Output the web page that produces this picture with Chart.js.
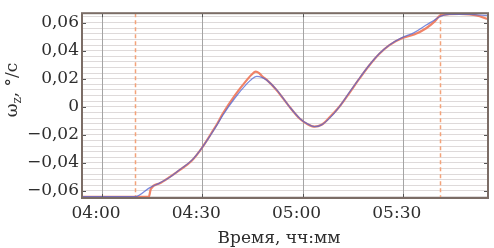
<!DOCTYPE html>
<html>
<head>
<meta charset="utf-8">
<script src="https://cdn.jsdelivr.net/npm/chart.js@4"></script>
<style>
  html, body { margin: 0; padding: 0; background: #fff; }
  #wrap { width: 494px; height: 248px; position: relative; }
</style>
</head>
<body>
<div id="wrap"><canvas id="rateChart"></canvas></div>
<script>
/* data: time in minutes since 00:00, rate in deg/s */
const blueTime = [234.0, 249.9, 254.3, 257.3, 260.3, 263.3, 266.9, 269.9, 272.8, 274.6, 276.1, 279.7, 283.3, 284.8, 286.3, 287.8, 289.3, 292.2, 296.1, 299.1, 301.5, 303.6, 305.7, 308.1, 311.0, 314.0, 317.0, 320.0, 323.0, 326.0, 329.9, 333.4, 337.0, 339.4, 341.2, 343.9, 349.9, 355.2];
const blueRate = [-0.0641, -0.0641, -0.0576, -0.0542, -0.0502, -0.0447, -0.0380, -0.0292, -0.0190, -0.0122, -0.0061, 0.0061, 0.0163, 0.0197, 0.0217, 0.0210, 0.0190, 0.0122, 0.0000, -0.0081, -0.0122, -0.0142, -0.0129, -0.0081, 0.0000, 0.0102, 0.0203, 0.0298, 0.0380, 0.0441, 0.0495, 0.0529, 0.0583, 0.0617, 0.0644, 0.0658, 0.0658, 0.0651];

const orangeTime = [234.0, 249.9, 254.0, 254.6, 257.3, 260.3, 263.3, 266.9, 269.9, 272.8, 274.6, 276.1, 279.7, 283.3, 284.8, 286.0, 287.0, 288.0, 289.3, 292.2, 296.1, 299.1, 301.5, 303.6, 305.7, 308.1, 311.0, 314.0, 317.0, 320.0, 323.0, 326.0, 329.9, 333.4, 337.0, 339.4, 341.2, 343.9, 347.0, 350.0, 353.0, 355.2];
const orangeRate = [-0.0641, -0.0641, -0.0641, -0.0585, -0.0545, -0.0500, -0.0450, -0.0382, -0.0292, -0.0185, -0.0115, -0.0050, 0.0080, 0.0190, 0.0230, 0.0250, 0.0240, 0.0215, 0.0192, 0.0120, 0.0000, -0.0083, -0.0124, -0.0142, -0.0128, -0.0075, 0.0000, 0.0098, 0.0200, 0.0296, 0.0378, 0.0440, 0.0490, 0.0515, 0.0560, 0.0605, 0.0650, 0.0660, 0.0662, 0.0658, 0.0645, 0.0625];

const xTickLabels = ['04:00', '04:30', '05:00', '05:30'];
const yTickLabels = [-0.06, -0.04, -0.02, 0, 0.02, 0.04, 0.06];
const markerLabels = ['04:10', '05:41'];   // dashed orange verticals

const toMin = s => { const p = s.split(':'); return +p[0] * 60 + +p[1]; };
const pad2 = n => String(n).padStart(2, '0');
const fmtTime = m => pad2(Math.floor(m / 60)) + ':' + pad2(Math.round(m % 60));

// light horizontal grid: 5 lines per major step
const yGrid = [];
for (let i = -16; i <= 16; i++) yGrid.push(+(i * 0.004).toFixed(3));

const FONT = '"DejaVu Serif", serif';

const frame = {
  id: 'frame',
  beforeDatasetsDraw(chart) {
    const { ctx, chartArea: a, scales: { x } } = chart;
    ctx.save();
    // solid vertical grid on top of the light horizontal one
    ctx.strokeStyle = '#a4a4a4';
    ctx.lineWidth = 1;
    xTickLabels.forEach(s => {
      const px = Math.round(x.getPixelForValue(toMin(s))) + 0.5;
      ctx.beginPath(); ctx.moveTo(px, a.top); ctx.lineTo(px, a.bottom); ctx.stroke();
    });
    ctx.strokeStyle = '#f3a27a';
    ctx.lineWidth = 1.5;
    ctx.setLineDash([4, 3]);
    markerLabels.forEach(s => {
      const px = Math.round(x.getPixelForValue(toMin(s))) + 0.5;
      ctx.beginPath(); ctx.moveTo(px, a.top); ctx.lineTo(px, a.bottom); ctx.stroke();
    });
    ctx.restore();
  },
  afterDraw(chart) {
    const { ctx, chartArea: a, scales: { x, y } } = chart;
    ctx.save();
    // small inward tick marks
    ctx.strokeStyle = '#555';
    ctx.lineWidth = 1;
    yTickLabels.forEach(v => {
      const py = Math.round(y.getPixelForValue(v)) + 0.5;
      ctx.beginPath();
      ctx.moveTo(a.left, py); ctx.lineTo(a.left + 4, py);
      ctx.moveTo(a.right, py); ctx.lineTo(a.right - 4, py);
      ctx.stroke();
    });
    xTickLabels.forEach(s => {
      const px = Math.round(x.getPixelForValue(toMin(s))) + 0.5;
      ctx.beginPath();
      ctx.moveTo(px, a.top); ctx.lineTo(px, a.top + 4);
      ctx.moveTo(px, a.bottom); ctx.lineTo(px, a.bottom - 4);
      ctx.stroke();
    });
    // plot frame
    ctx.strokeStyle = '#7b6d66';
    ctx.lineWidth = 2;
    ctx.strokeRect(a.left, a.top, a.right - a.left, a.bottom - a.top);

    // axis titles
    ctx.fillStyle = '#2e2e2e';
    ctx.textBaseline = 'middle';
    ctx.font = '17px ' + FONT;
    ctx.textAlign = 'center';
    ctx.fillText('Время, чч:мм', 279, 239);

    ctx.translate(13, 90);
    ctx.rotate(-Math.PI / 2);
    ctx.textAlign = 'left';
    const w1 = ctx.measureText('ω').width;
    ctx.font = '12px ' + FONT;
    const w2 = ctx.measureText('z').width;
    ctx.font = '17px ' + FONT;
    const w3 = ctx.measureText(', °/c').width;
    let cx = -(w1 + w2 + w3) / 2;
    ctx.fillText('ω', cx, 0); cx += w1;
    ctx.font = '12px ' + FONT;
    ctx.fillText('z', cx, 5); cx += w2;
    ctx.font = '17px ' + FONT;
    ctx.fillText(', °/c', cx, 0);
    ctx.restore();
  }
};

new Chart(document.getElementById('rateChart'), {
  type: 'line',
  data: {
    datasets: [
      {
        label: 'blue',
        data: blueTime.map((t, i) => ({ x: t, y: blueRate[i] })),
        borderColor: 'rgba(80,100,210,0.75)',
        borderWidth: 1.3,
        pointRadius: 0,
        cubicInterpolationMode: 'monotone',
        order: 0
      },
      {
        label: 'orange',
        data: orangeTime.map((t, i) => ({ x: t, y: orangeRate[i] })),
        borderColor: 'rgba(238,118,88,0.9)',
        borderWidth: 2.2,
        pointRadius: 0,
        cubicInterpolationMode: 'monotone',
        order: 1
      }
    ]
  },
  options: {
    responsive: true,
    maintainAspectRatio: false,
    animation: false,
    layout: { padding: { left: 0, right: 6, top: 4, bottom: 0 } },
    plugins: { legend: { display: false }, tooltip: { enabled: false } },
    scales: {
      x: {
        type: 'linear',
        min: 234,
        max: 355.5,
        afterBuildTicks: s => { s.ticks = xTickLabels.map(l => ({ value: toMin(l) })); },
        afterFit: s => { s.height = 50; },
        grid: { color: 'rgba(0,0,0,0)', drawTicks: false },
        border: { display: false },
        ticks: {
          padding: 5,
          labelOffset: -6,
          color: '#2e2e2e',
          font: { family: FONT, size: 17 },
          callback: v => fmtTime(v)
        }
      },
      y: {
        min: -0.065,
        max: 0.0667,
        afterBuildTicks: s => { s.ticks = yGrid.map(v => ({ value: v })); },
        afterFit: s => { s.width = 82; },
        grid: { color: '#dedada', lineWidth: 1, drawTicks: false },
        border: { display: false },
        ticks: {
          padding: 3,
          autoSkip: false,
          color: '#2e2e2e',
          font: { family: FONT, size: 17 },
          callback: v => {
            const k = v / 0.02;
            if (Math.abs(k - Math.round(k)) > 1e-6) return '';
            const r = Math.round(k) * 0.02;
            if (r === 0) return '0';
            return (r < 0 ? '\u2212' : '') + Math.abs(r).toFixed(2).replace('.', ',');
          }
        }
      }
    }
  },
  plugins: [frame]
});
</script>
</body>
</html>
